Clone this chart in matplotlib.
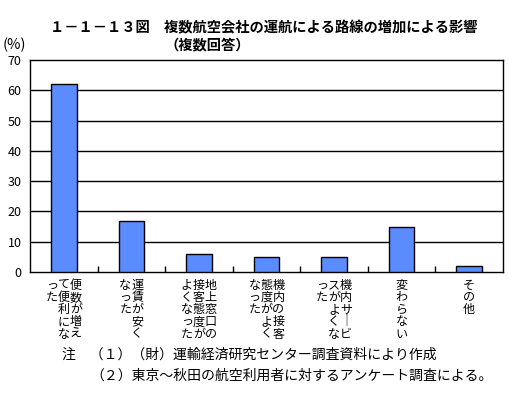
import matplotlib
matplotlib.use("Agg")
import matplotlib.pyplot as plt
from matplotlib.transforms import offset_copy, blended_transform_factory

plt.rcParams['font.family'] = ['Noto Sans CJK JP', 'DejaVu Sans']

# ---- data ----
categories = [
    "便数が増えて便利になった",
    "運賃が安くなった",
    "地上窓口の接客態度がよくなった",
    "機内の接客態度がよくなった",
    "機内サービスがよくなった",
    "変わらない",
    "その他",
]
# vertical-writing columns (right to left) of each label
label_columns = [
    ["便数が増え", "て便利にな", "った"],
    ["運賃が安く", "なった"],
    ["地上窓口の", "接客態度が", "よくなった"],
    ["機内の接客", "態度がよく", "なった"],
    ["機内サ｜ビ", "スがよくな", "った"],
    ["変わらない"],
    ["その他"],
]
values = [62, 17, 6, 5, 5, 15, 2]
yticks = [0, 10, 20, 30, 40, 50, 60, 70]

title1 = "１－１－１３図　複数航空会社の運航による路線の増加による影響"
title2 = "（複数回答）"
note1 = "注　（１）（財）運輸経済研究センター調査資料により作成"
note2 = "（２）東京～秋田の航空利用者に対するアンケート調査による。"

W, H = 510, 394
fig = plt.figure(figsize=(W / 100, H / 100), dpi=100)
ax = fig.add_axes([30 / W, 1 - 272 / H, 473 / W, 212 / H])

x = list(range(len(values)))
ax.bar(x, values, width=0.38, color="#5B8CFF", edgecolor="black", linewidth=1.0, zorder=3)

ax.set_xlim(-0.5, len(values) - 0.5)
ax.set_ylim(0, 70)
ax.set_yticks(yticks)
ax.set_yticklabels([str(v) for v in yticks], fontsize=9)
ax.tick_params(axis='y', length=0, pad=6)
for v in yticks[1:-1]:
    ax.axhline(v, color="black", linewidth=1.0, zorder=1)

ax.set_xticks([i + 0.5 for i in range(len(values) - 1)])
ax.set_xticklabels([])
ax.tick_params(axis='x', direction='in', length=4, width=1, color='black')
for s in ax.spines.values():
    s.set_linewidth(1.0)
    s.set_color("black")

# vertical category labels
base = blended_transform_factory(ax.transData, fig.transFigure)
col_pitch = 12
row_pitch = 12.3
y0 = 1 - 285 / H
for i, cols in enumerate(label_columns):
    n = len(cols)
    for c, col in enumerate(cols):
        # c=0 is the rightmost column
        dx = ((n - 1) / 2 - c) * col_pitch
        for r, ch in enumerate(col):
            tr = offset_copy(base, fig=fig, x=dx, y=-r * row_pitch, units='dots')
            ax.text(i, y0, ch, transform=tr, ha='center', va='center', fontsize=8.7)

fig.text(50 / W, 1 - 28 / H, title1, fontsize=10.3, fontweight='bold', ha='left', va='center')
fig.text(164 / W, 1 - 45 / H, title2, fontsize=10.3, fontweight='bold', ha='left', va='center')
fig.text(3 / W, 1 - 45 / H, "(%)", fontsize=10.5, ha='left', va='center')
fig.text(62 / W, 1 - 355 / H, note1, fontsize=10, ha='left', va='center')
fig.text(90 / W, 1 - 376 / H, note2, fontsize=10, ha='left', va='center')

fig.savefig("out.png", dpi=100)
